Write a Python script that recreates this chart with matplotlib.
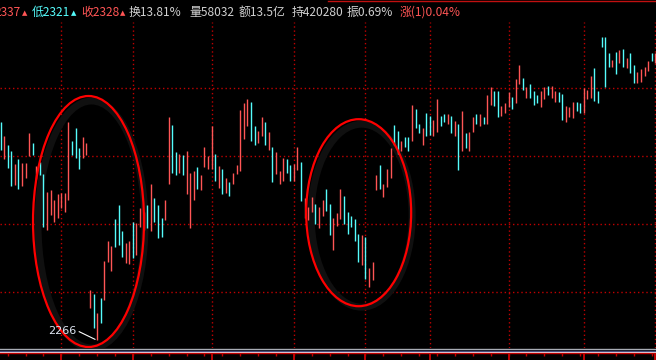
import matplotlib
matplotlib.use("Agg")
import matplotlib.pyplot as plt
from matplotlib.patches import Ellipse
from matplotlib.lines import Line2D

# bar highs / lows (arbitrary price units, low point = 2266)
highs = [
    2484, 2470, 2461, 2455, 2442, 2447, 2443, 2443, 2473, 2463,
    2440, 2444, 2432, 2414, 2416, 2406, 2412, 2413, 2413, 2484,
    2465, 2478, 2458, 2469, 2463, 2316, 2312, 2293, 2308, 2345,
    2365, 2360, 2387, 2401, 2375, 2363, 2365, 2384, 2383, 2398,
    2394, 2401, 2422, 2408, 2401, 2388, 2406, 2489, 2481, 2454,
    2452, 2451, 2455, 2433, 2435, 2439, 2431, 2459, 2450, 2480,
    2452, 2440, 2437, 2428, 2424, 2433, 2441, 2496, 2503, 2507,
    2504, 2480, 2475, 2489, 2484, 2474, 2459, 2454, 2435, 2448,
    2447, 2441, 2442, 2459, 2444, 2408, 2399, 2409, 2402, 2399,
    2406, 2417, 2402, 2388, 2393, 2417, 2410, 2394, 2390, 2387,
    2372, 2371, 2369, 2338, 2344, 2431, 2441, 2422, 2437, 2458,
    2481, 2475, 2465, 2469, 2469, 2501, 2497, 2482, 2478, 2493,
    2490, 2486, 2507, 2490, 2492, 2492, 2490, 2485, 2482, 2495,
    2473, 2474, 2489, 2492, 2492, 2489, 2511, 2519, 2515, 2515,
    2500, 2503, 2514, 2509, 2527, 2541, 2528, 2519, 2522, 2515,
    2511, 2515, 2519, 2520, 2520, 2515, 2514, 2512, 2500, 2499,
    2504, 2504, 2503, 2518, 2516, 2530, 2538, 2515, 2569, 2569,
    2553, 2546, 2554, 2556, 2557, 2548, 2553, 2541, 2534, 2537,
    2539, 2545, 2553, 2553,
]
lows = [
    2456, 2447, 2438, 2420, 2421, 2417, 2420, 2428, 2450, 2451,
    2427, 2431, 2379, 2376, 2391, 2384, 2388, 2398, 2394, 2406,
    2451, 2448, 2437, 2448, 2451, 2298, 2278, 2266, 2283, 2306,
    2344, 2335, 2359, 2361, 2349, 2343, 2342, 2348, 2351, 2379,
    2376, 2378, 2375, 2384, 2368, 2369, 2386, 2422, 2433, 2431,
    2433, 2431, 2412, 2378, 2406, 2417, 2416, 2439, 2437, 2437,
    2425, 2418, 2412, 2413, 2410, 2422, 2432, 2435, 2467, 2480,
    2465, 2461, 2463, 2470, 2461, 2456, 2424, 2432, 2422, 2425,
    2433, 2425, 2425, 2436, 2405, 2388, 2386, 2394, 2382, 2378,
    2390, 2395, 2371, 2356, 2380, 2387, 2382, 2372, 2379, 2365,
    2344, 2341, 2327, 2319, 2326, 2416, 2417, 2409, 2419, 2428,
    2461, 2452, 2455, 2459, 2455, 2465, 2478, 2473, 2461, 2470,
    2471, 2470, 2474, 2480, 2484, 2482, 2473, 2470, 2436, 2455,
    2458, 2455, 2474, 2482, 2480, 2482, 2482, 2501, 2500, 2489,
    2490, 2493, 2499, 2497, 2503, 2522, 2516, 2508, 2508, 2501,
    2503, 2499, 2507, 2511, 2508, 2504, 2504, 2486, 2484, 2489,
    2488, 2495, 2493, 2493, 2507, 2508, 2505, 2503, 2559, 2519,
    2539, 2539, 2532, 2543, 2539, 2538, 2533, 2523, 2523, 2524,
    2530, 2535, 2545, 2543,
]
# u = up bar (red), d = down bar (cyan)
direction = "".join([
    "dudduduuud", "udduuuuuuu", "ddduuududu", "uuddduuduu", "ududdduudd",
    "uduuuduuuu", "dududuuuuu", "dduududuuu", "dduuduuudu", "udduuudddd",
    "duduuuduuu", "ddudduddud", "duuddududu", "duududuudd", "uuuduududd",
    "duuduudduu", "udduuudddd", "dudududduu", "uudu",
])

session_starts = [17, 37, 59, 82, 102, 120, 142, 163, 183]
price_grid = [2314, 2382, 2450, 2518]

header = [
    ("2337", "up"), ("低2321", "down"), ("收2328", "up"),
    ("换13.81%", None), ("量58032", None), ("额13.5亿", None),
    ("持420280", None), ("振0.69%", None), ("涨(1)0.04%", "up"),
]

RED = "#ff5555"
CYAN = "#55fcfc"
GRID = "#c00000"
TEXT = "#d0d0d0"

W, H = 656, 360
BAR_PX = 3.578
N = len(highs)

fig = plt.figure(figsize=(W / 100, H / 100), dpi=100, facecolor="black")
ax = fig.add_axes([0, 12 / H, 1, 326 / H], facecolor="black")
x0 = -0.5 / BAR_PX
ax.set_xlim(x0, x0 + W / BAR_PX)
ax.set_ylim(2606 - 348, 2606 - 22)
for s in ax.spines.values():
    s.set_visible(False)
ax.set_xticks([])
ax.set_yticks([])

for p in price_grid:
    ax.axhline(p, color=GRID, lw=1.0, ls=(0, (1, 2)), zorder=1)
for b in session_starts:
    ax.axvline(b, color=GRID, lw=1.0, ls=(0, (1, 2)), zorder=1)

xs = list(range(N))
cols = [RED if c == "u" else CYAN for c in direction]
ax.vlines(xs, lows, highs, colors=cols, lw=1.0, zorder=3)

# circled areas, with a faint soft shadow
px = 1 / BAR_PX
for cx, cy, w, h in [(24.6, 2384.5, 111 * px, 251), (100.1, 2393.3, 105 * px, 187)]:
    ax.add_patch(Ellipse((cx + 3 * px, cy - 3), w - 4 * px, h - 4, fill=False,
                         ec="#101010", lw=5, zorder=2))
    ax.add_patch(Ellipse((cx, cy), w, h, fill=False, ec="#ff0000",
                         lw=1.6, zorder=4))

# low-point marker
lo_i = lows.index(min(lows))
ax.plot([lo_i - 5.0, lo_i - 0.6], [min(lows) + 8.3, min(lows) + 0.7],
        color="white", lw=0.8, zorder=5)
ax.text(lo_i - 5.9, min(lows) + 9.5, str(min(lows)), color="#dfe6f2",
        fontsize=8, ha="right", va="center", zorder=5)

# bottom time strip
axb = fig.add_axes([0, 0, 1, 12 / H], facecolor="black")
axb.set_xlim(ax.get_xlim())
axb.set_ylim(12, 0)
axb.axis("off")
axb.axhline(1.0, color="#a8acb4", lw=1.0)
axb.axhline(2.6, color="#1c2a66", lw=1.0)
axb.axhline(3.9, color="#e8ecf4", lw=1.0)
axb.axhline(5.3, color=GRID, lw=1.0)
axb.vlines(range(2, N, 5), 5.3, 8.2, color=GRID, lw=1.0)
axb.vlines(session_starts, 5.3, 12, color=GRID, lw=1.4)

# header line
fam = ["Noto Sans CJK SC", "DejaVu Sans"]
fig.add_artist(Line2D([328 / W, 1], [1 - 0.5 / H, 1 - 0.5 / H],
                      color="#c01010", lw=1.0))
hx = [20.5, 32, 81, 129, 189, 239, 292, 347, 400]
for (txt, kind), xpix in zip(header, hx):
    col = RED if kind == "up" else CYAN if kind == "down" else TEXT
    ha = "right" if xpix == hx[0] else "left"
    t = fig.text(xpix / W, 1 - 12.5 / H, txt, color=col, fontsize=8.6,
                 family=fam, ha=ha, va="center")
    if kind in ("up", "down") and txt[0] != "涨":
        fig.canvas.draw()
        bb = t.get_window_extent()
        fig.text((bb.x1 + 1) / W, 1 - 13 / H, "▲", color=col, fontsize=5,
                 family=["DejaVu Sans"], ha="left", va="center")

fig.savefig("out.png", dpi=100, facecolor="black")
